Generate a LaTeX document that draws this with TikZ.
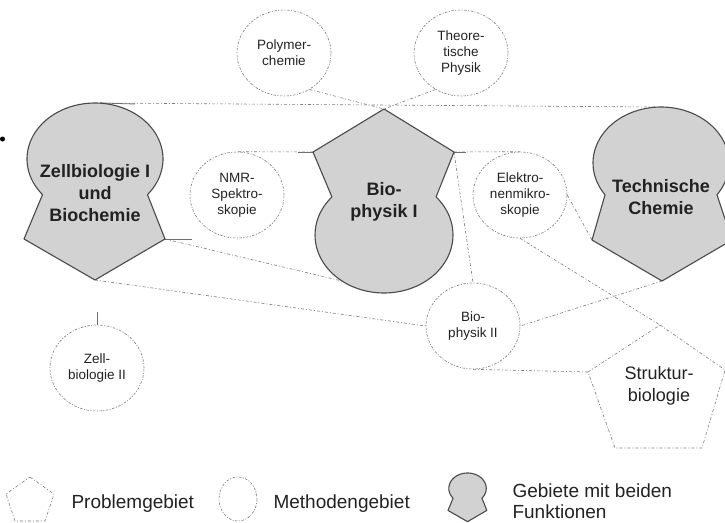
\documentclass[tikz,border=0pt]{standalone}
\usepackage{fontspec}
\setmainfont{Liberation Sans}
\usetikzlibrary{shapes.geometric}
\definecolor{khfill}{HTML}{D2D2D2}
\definecolor{khline}{HTML}{4A4A4A}
\definecolor{conncol}{HTML}{7A7A7A}
\definecolor{txt}{HTML}{222222}
\newcommand{\zbShape}{plot[domain=140.5:399.5,samples=70,variable=\t] ({95+68*cos(\t)},{159+56*sin(\t)}) -- (165,239) -- (95,280) -- (24,239) -- cycle}
\begin{document}
\begin{tikzpicture}[x=1pt,y=-1pt,
  keyhole/.style={draw=khline, line width=1.1pt, fill=khfill, line join=round},
  methodnode/.style={draw=conncol, line width=0.6pt, dash pattern=on 2.5pt off 1.5pt on 1pt off 1.5pt,
    ellipse, minimum width=94pt, minimum height=86pt, inner sep=0pt, align=center,
    text=txt, font=\fontsize{13.5}{16}\selectfont},
  conn/.style={draw=conncol, line width=0.6pt, dash pattern=on 3pt off 2pt on 1pt off 2pt},
  stub/.style={draw=khline!80, line width=0.8pt},
  probline/.style={draw=conncol, line width=0.6pt, dash pattern=on 3pt off 2pt on 1pt off 2pt, line join=round},
  bigtext/.style={align=center, text=txt, font=\fontsize{18}{22}\selectfont\bfseries},
  probtext/.style={align=center, text=txt, font=\fontsize{18}{22}\selectfont},
  legtext/.style={anchor=base west, text=txt, font=\fontsize{19}{21}\selectfont, align=left},
]
\useasboundingbox (0,0) rectangle (725,522);
\clip (0,0) rectangle (725,522);

% key coordinates
\coordinate (zbT) at (100,103);
\coordinate (zbR) at (165,239);
\coordinate (zbB) at (95,280);
\coordinate (bpT) at (384,109);
\coordinate (bpL) at (313,152);
\coordinate (bpR) at (454,152);
\coordinate (bpSW) at (342,281);
\coordinate (tcT) at (655,107);
\coordinate (tcL) at (592,240);
\coordinate (tcB) at (662,281);
\coordinate (stT) at (660,325);
\coordinate (stR) at (725,370);
\coordinate (stBR) at (702,448);
\coordinate (stBL) at (615,448);
\coordinate (stL) at (588,372);
\coordinate (zbIIstub) at (97,312);
\coordinate (zbRstub) at (192,239);
\coordinate (bpLstub) at (298,152);
\coordinate (bpRstub) at (466,152);
\coordinate (zbTstub) at (135,104);

% method nodes
\node[methodnode] (poly) at (284,53) {Polymer-\\chemie};
\node[methodnode] (theo) at (461,53) {Theore-\\tische\\Physik};
\node[methodnode] (nmr) at (237,195) {NMR-\\Spektro-\\skopie};
\node[methodnode] (elek) at (520,195) {Elektro-\\nenmikro-\\skopie};
\node[methodnode] (bpII) at (473,326) {Bio-\\physik II};
\node[methodnode] (zbII) at (97,368) {Zell-\\biologie II};

% connectors
\draw[conn] (zbT) -- (tcT);
\draw[conn] (poly.-55) -- (bpT);
\draw[conn] (theo.-125) -- (bpT);
\draw[conn] (zbR) -- (bpSW);
\draw[conn] (zbB) -- (bpII.west);
\draw[conn] (bpL) -- (nmr.north);
\draw[conn] (bpR) -- (elek.north);
\draw[conn] (bpR) -- (bpII.north);
\draw[conn] (elek.east) -- (tcL);
\draw[conn] (elek.south) -- (stT);
\draw[conn] (tcB) -- (bpII.east);
\draw[conn] (bpII.south) -- (stL);
\draw[stub] (zbII.north) -- (zbIIstub);
\draw[stub] (zbR) -- (zbRstub);
\draw[stub] (bpL) -- (bpLstub);
\draw[stub] (bpR) -- (bpRstub);
\draw[stub] (zbT) -- (zbTstub);

% keyhole shapes
\draw[keyhole] \zbShape;
\draw[keyhole] (bpT) -- (bpR) -- plot[domain=-41:221,samples=70,variable=\t] ({384+69*cos(\t)},{235+58*sin(\t)}) -- (bpL) -- cycle;
\draw[keyhole] plot[domain=145.4:394.6,samples=70,variable=\t] ({661+68*cos(\t)},{163+56*sin(\t)}) -- (732,240) -- (tcB) -- (tcL) -- cycle;

\node[bigtext] (zb) at (95,193) {Zellbiologie I\\und\\Biochemie};
\node[bigtext] (bpI) at (384,202) {Bio-\\physik I};
\node[bigtext] (tc) at (661,197) {Technische\\Chemie};

% Strukturbiologie
\draw[probline] (stT) -- (stR) -- (stBR) -- (stBL) -- (stL) -- cycle;
\node[probtext] (st) at (659,386) {Struktur-\\biologie};

% stray mark
\fill[black] (2.5,139) circle (2.5pt);

% legend
\draw[probline] (30,477) -- (54,494) -- (45,521) -- (15,521) -- (6,494) -- cycle;
\node[legtext] (lp) at (68,508) {Problemgebiet};
\draw[draw=conncol, line width=0.6pt, dash pattern=on 2.5pt off 1.5pt on 1pt off 1.5pt] (238,499) ellipse [x radius=19, y radius=22];
\node[legtext] (lm) at (270,508) {Methodengebiet};
\begin{scope}[shift={(448,473)}, scale=0.275, shift={(-24,-103)}]
\draw[keyhole] \zbShape;
\end{scope}
\node[legtext, anchor=north west] (lg) at (509,480) {Gebiete mit beiden\\Funktionen};
\end{tikzpicture}
\end{document}
